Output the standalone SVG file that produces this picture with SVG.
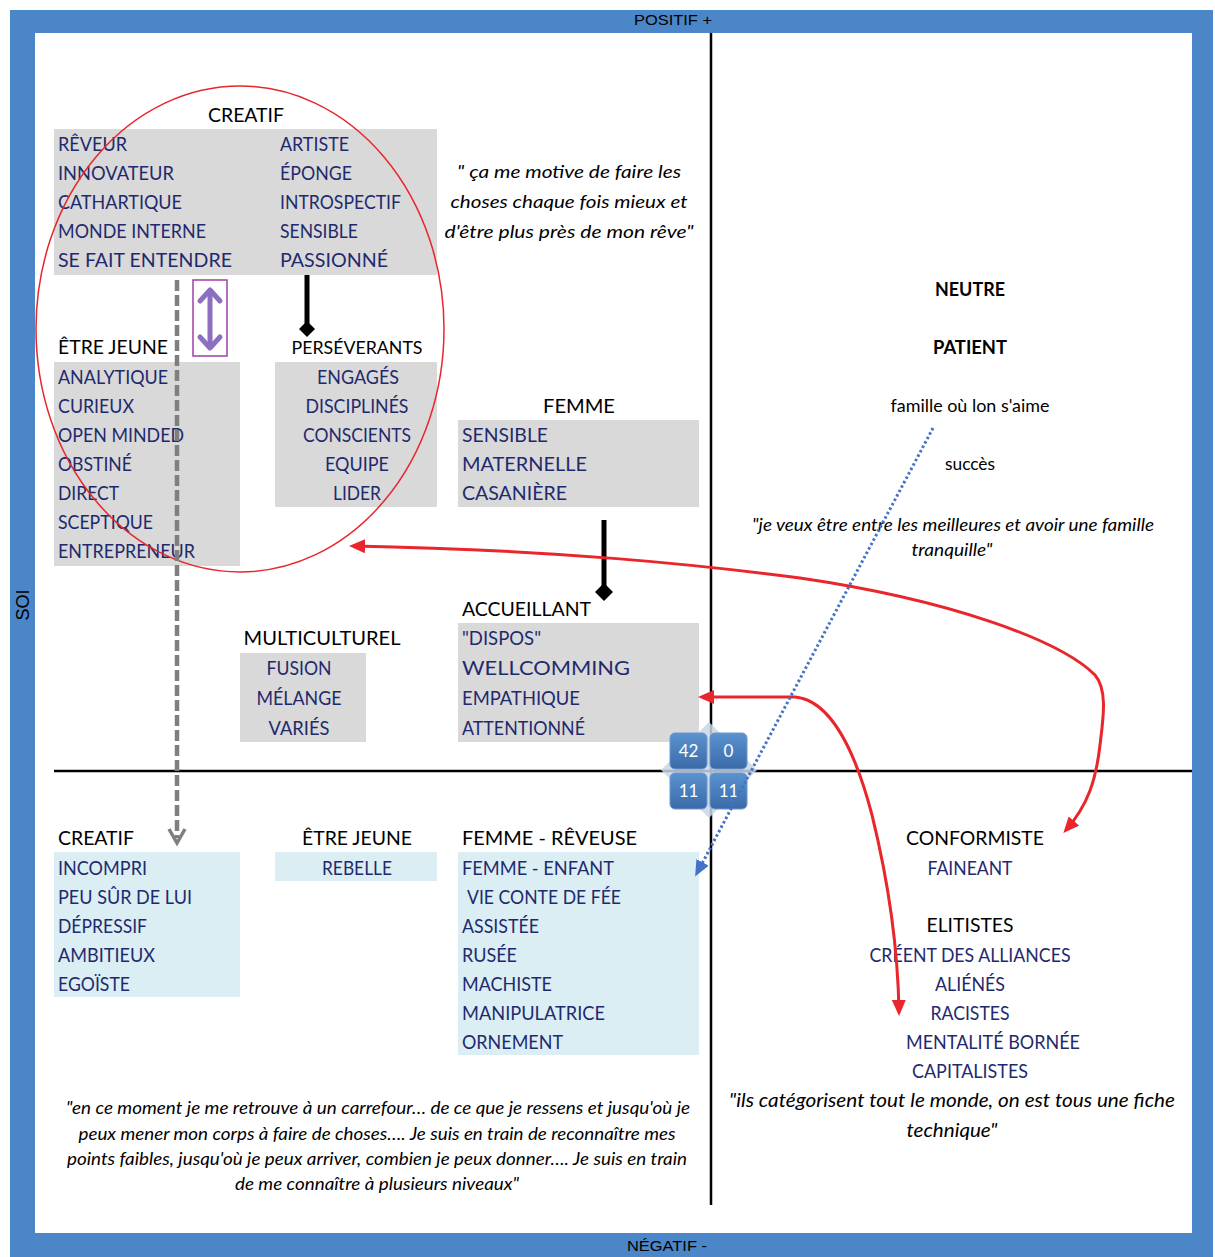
<svg xmlns="http://www.w3.org/2000/svg" width="1215" height="1257" viewBox="0 0 1215 1257">
<style>
.lbl{font-family:"Liberation Sans",Arial,sans-serif;font-size:14px;fill:#000}
.h{font-family:Lato,"Liberation Sans",sans-serif;font-size:20px;fill:#000}
.i{font-family:Lato,"Liberation Sans",sans-serif;font-size:19px;fill:#1F2A6E}
.q{font-family:Lato,"Liberation Sans",sans-serif;font-size:17px;font-style:italic;fill:#000}
.s{font-family:Lato,"Liberation Sans",sans-serif;font-size:17px;fill:#000}
.b{font-family:Lato,"Liberation Sans",sans-serif;font-size:18px;font-weight:bold;fill:#000}
.m{text-anchor:middle}
.gray{fill:#D9D9D9}
.lb{fill:#DBEEF4}
.badge{fill:url(#bg);stroke:#6C98CC;stroke-width:1}
.bt{font-family:Lato,"Liberation Sans",sans-serif;font-size:17px;fill:#fff;text-anchor:middle}
.red{fill:none;stroke:#E8262B;stroke-width:3;marker-start:url(#rh);marker-end:url(#rh)}
</style>
<defs>
<linearGradient id="bg" x1="0" y1="0" x2="0" y2="1">
<stop offset="0" stop-color="#5A92D0"/><stop offset="1" stop-color="#3A6BA8"/>
</linearGradient>
<marker id="rh" markerWidth="16" markerHeight="14" refX="12" refY="7" orient="auto-start-reverse" markerUnits="userSpaceOnUse">
<path d="M0,0 L16,7 L0,14 z" fill="#E8262B"/>
</marker>
<marker id="bh" markerWidth="16" markerHeight="14" refX="12" refY="7" orient="auto" markerUnits="userSpaceOnUse">
<path d="M0,0 L16,7 L0,14 z" fill="#4472C4"/>
</marker>
</defs>

<rect x="10" y="10" width="1203" height="1247" fill="#4A86C8"/>
<rect x="35" y="33" width="1157" height="1200" fill="#fff"/>
<text class="lbl m" x="673" y="25" textLength="78" lengthAdjust="spacingAndGlyphs">POSITIF +</text>
<text class="lbl m" x="667" y="1251" textLength="80" lengthAdjust="spacingAndGlyphs">NÉGATIF -</text>
<text class="lbl m" transform="translate(29,605) rotate(-90)" style="font-size:18px">SOI</text>

<g id="axes" stroke="#000" stroke-width="2.5">
<line x1="711" y1="33" x2="711" y2="1205"/>
<line x1="54" y1="771" x2="1192" y2="771"/>
</g>

<g id="creatif-top">
<text class="h m" x="246" y="122" textLength="76" lengthAdjust="spacingAndGlyphs">CREATIF</text>
<rect class="gray" x="54" y="129" width="383" height="146"/>
<text class="i" x="58" y="151" textLength="69" lengthAdjust="spacingAndGlyphs">RÊVEUR</text>
<text class="i" x="58" y="180" textLength="116" lengthAdjust="spacingAndGlyphs">INNOVATEUR</text>
<text class="i" x="58" y="209" textLength="124" lengthAdjust="spacingAndGlyphs">CATHARTIQUE</text>
<text class="i" x="58" y="238" textLength="148" lengthAdjust="spacingAndGlyphs">MONDE INTERNE</text>
<text class="i" x="58" y="267" textLength="174" lengthAdjust="spacingAndGlyphs">SE FAIT ENTENDRE</text>
<text class="i" x="280" y="151" textLength="69" lengthAdjust="spacingAndGlyphs">ARTISTE</text>
<text class="i" x="280" y="180" textLength="72" lengthAdjust="spacingAndGlyphs">ÉPONGE</text>
<text class="i" x="280" y="209" textLength="121" lengthAdjust="spacingAndGlyphs">INTROSPECTIF</text>
<text class="i" x="280" y="238" textLength="78" lengthAdjust="spacingAndGlyphs">SENSIBLE</text>
<text class="i" x="280" y="267" textLength="108" lengthAdjust="spacingAndGlyphs">PASSIONNÉ</text>
</g>

<g id="quote-top">
<text class="q m" x="569" y="178" textLength="224" lengthAdjust="spacingAndGlyphs">" ça me motive de faire les</text>
<text class="q m" x="569" y="208" textLength="237" lengthAdjust="spacingAndGlyphs">choses chaque fois mieux et</text>
<text class="q m" x="569" y="238" textLength="249" lengthAdjust="spacingAndGlyphs">d'être plus près de mon rêve"</text>
</g>

<g id="etre-jeune-top">
<text class="h" x="58" y="354" textLength="110" lengthAdjust="spacingAndGlyphs">ÊTRE JEUNE</text>
<rect class="gray" x="54" y="362" width="186" height="204"/>
<text class="i" x="58" y="384" textLength="110" lengthAdjust="spacingAndGlyphs">ANALYTIQUE</text>
<text class="i" x="58" y="413" textLength="76" lengthAdjust="spacingAndGlyphs">CURIEUX</text>
<text class="i" x="58" y="442" textLength="126" lengthAdjust="spacingAndGlyphs">OPEN MINDED</text>
<text class="i" x="58" y="471" textLength="74" lengthAdjust="spacingAndGlyphs">OBSTINÉ</text>
<text class="i" x="58" y="500" textLength="61" lengthAdjust="spacingAndGlyphs">DIRECT</text>
<text class="i" x="58" y="529" textLength="95" lengthAdjust="spacingAndGlyphs">SCEPTIQUE</text>
<text class="i" x="58" y="558" textLength="137" lengthAdjust="spacingAndGlyphs">ENTREPRENEUR</text>
</g>

<g id="perseverants">
<text class="h m" x="357" y="354" style="font-size:18px" textLength="131" lengthAdjust="spacingAndGlyphs">PERSÉVERANTS</text>
<rect class="gray" x="275" y="362" width="162" height="145"/>
<text class="i m" x="358" y="384" textLength="82" lengthAdjust="spacingAndGlyphs">ENGAGÉS</text>
<text class="i m" x="357" y="413" textLength="103" lengthAdjust="spacingAndGlyphs">DISCIPLINÉS</text>
<text class="i m" x="357" y="442" textLength="108" lengthAdjust="spacingAndGlyphs">CONSCIENTS</text>
<text class="i m" x="357" y="471" textLength="64" lengthAdjust="spacingAndGlyphs">EQUIPE</text>
<text class="i m" x="357" y="500" textLength="48" lengthAdjust="spacingAndGlyphs">LIDER</text>
</g>

<g id="femme">
<text class="h m" x="579" y="413" textLength="72" lengthAdjust="spacingAndGlyphs">FEMME</text>
<rect class="gray" x="458" y="420" width="241" height="87"/>
<text class="i" x="462" y="442" textLength="86" lengthAdjust="spacingAndGlyphs">SENSIBLE</text>
<text class="i" x="462" y="471" textLength="125" lengthAdjust="spacingAndGlyphs">MATERNELLE</text>
<text class="i" x="462" y="500" textLength="105" lengthAdjust="spacingAndGlyphs">CASANIÈRE</text>
</g>

<g id="accueillant">
<text class="h" x="462" y="616" textLength="129" lengthAdjust="spacingAndGlyphs">ACCUEILLANT</text>
<rect class="gray" x="458" y="623" width="241" height="119"/>
<text class="i" x="462" y="645" textLength="79" lengthAdjust="spacingAndGlyphs">"DISPOS"</text>
<text class="i" x="462" y="675" textLength="168" lengthAdjust="spacingAndGlyphs">WELLCOMMING</text>
<text class="i" x="462" y="705" textLength="118" lengthAdjust="spacingAndGlyphs">EMPATHIQUE</text>
<text class="i" x="462" y="735" textLength="123" lengthAdjust="spacingAndGlyphs">ATTENTIONNÉ</text>
</g>

<g id="multiculturel">
<text class="h m" x="322" y="645" textLength="157" lengthAdjust="spacingAndGlyphs">MULTICULTUREL</text>
<rect class="gray" x="240" y="653" width="126" height="89"/>
<text class="i m" x="299" y="675" textLength="65" lengthAdjust="spacingAndGlyphs">FUSION</text>
<text class="i m" x="299" y="705" textLength="85" lengthAdjust="spacingAndGlyphs">MÉLANGE</text>
<text class="i m" x="299" y="735" textLength="61" lengthAdjust="spacingAndGlyphs">VARIÉS</text>
</g>

<g id="neutre">
<text class="b m" x="970" y="296" textLength="70" lengthAdjust="spacingAndGlyphs">NEUTRE</text>
<text class="b m" x="970" y="354" textLength="74" lengthAdjust="spacingAndGlyphs">PATIENT</text>
<text class="s m" x="970" y="412" textLength="159" lengthAdjust="spacingAndGlyphs">famille où lon s'aime</text>
<text class="s m" x="970" y="470" textLength="50" lengthAdjust="spacingAndGlyphs">succès</text>
<text class="q m" x="953" y="531" textLength="402" lengthAdjust="spacingAndGlyphs">"je veux être entre les meilleures et avoir une famille</text>
<text class="q m" x="952" y="556" textLength="81" lengthAdjust="spacingAndGlyphs">tranquille"</text>
</g>

<g id="creatif-bottom">
<text class="h" x="58" y="845" textLength="76" lengthAdjust="spacingAndGlyphs">CREATIF</text>
<rect class="lb" x="54" y="852" width="186" height="145"/>
<text class="i" x="58" y="875" textLength="89" lengthAdjust="spacingAndGlyphs">INCOMPRI</text>
<text class="i" x="58" y="904" textLength="134" lengthAdjust="spacingAndGlyphs">PEU SÛR DE LUI</text>
<text class="i" x="58" y="933" textLength="89" lengthAdjust="spacingAndGlyphs">DÉPRESSIF</text>
<text class="i" x="58" y="962" textLength="97" lengthAdjust="spacingAndGlyphs">AMBITIEUX</text>
<text class="i" x="58" y="991" textLength="72" lengthAdjust="spacingAndGlyphs">EGOÏSTE</text>
</g>

<g id="etre-jeune-bottom">
<text class="h m" x="357" y="845" textLength="110" lengthAdjust="spacingAndGlyphs">ÊTRE JEUNE</text>
<rect class="lb" x="275" y="852" width="162" height="29"/>
<text class="i m" x="357" y="875" textLength="70" lengthAdjust="spacingAndGlyphs">REBELLE</text>
</g>

<g id="femme-reveuse">
<text class="h" x="462" y="845" textLength="175" lengthAdjust="spacingAndGlyphs">FEMME - RÊVEUSE</text>
<rect class="lb" x="458" y="852" width="241" height="203"/>
<text class="i" x="462" y="875" textLength="152" lengthAdjust="spacingAndGlyphs">FEMME - ENFANT</text>
<text class="i" x="467" y="904" textLength="154" lengthAdjust="spacingAndGlyphs">VIE CONTE DE FÉE</text>
<text class="i" x="462" y="933" textLength="77" lengthAdjust="spacingAndGlyphs">ASSISTÉE</text>
<text class="i" x="462" y="962" textLength="55" lengthAdjust="spacingAndGlyphs">RUSÉE</text>
<text class="i" x="462" y="991" textLength="90" lengthAdjust="spacingAndGlyphs">MACHISTE</text>
<text class="i" x="462" y="1020" textLength="143" lengthAdjust="spacingAndGlyphs">MANIPULATRICE</text>
<text class="i" x="462" y="1049" textLength="101" lengthAdjust="spacingAndGlyphs">ORNEMENT</text>
</g>

<g id="quote-bottom">
<text class="q m" x="378" y="1114" textLength="624" lengthAdjust="spacingAndGlyphs">"en ce moment je me retrouve à un carrefour… de ce que je ressens et jusqu'où je</text>
<text class="q m" x="377" y="1140" textLength="597" lengthAdjust="spacingAndGlyphs">peux mener mon corps à faire de choses…. Je suis en train de reconnaître mes</text>
<text class="q m" x="377" y="1165" textLength="620" lengthAdjust="spacingAndGlyphs">points faibles, jusqu'où je peux arriver, combien je peux donner…. Je suis en train</text>
<text class="q m" x="377" y="1190" textLength="284" lengthAdjust="spacingAndGlyphs">de me connaître à plusieurs niveaux"</text>
</g>

<g id="conformiste">
<text class="h m" x="975" y="845" textLength="138" lengthAdjust="spacingAndGlyphs">CONFORMISTE</text>
<text class="i m" x="970" y="875" textLength="85" lengthAdjust="spacingAndGlyphs">FAINEANT</text>
</g>

<g id="elitistes">
<text class="h m" x="970" y="932" textLength="87" lengthAdjust="spacingAndGlyphs">ELITISTES</text>
<text class="i m" x="970" y="962" textLength="201" lengthAdjust="spacingAndGlyphs">CRÉENT DES ALLIANCES</text>
<text class="i m" x="970" y="991" textLength="70" lengthAdjust="spacingAndGlyphs">ALIÉNÉS</text>
<text class="i m" x="970" y="1020" textLength="79" lengthAdjust="spacingAndGlyphs">RACISTES</text>
<text class="i m" x="993" y="1049" textLength="174" lengthAdjust="spacingAndGlyphs">MENTALITÉ BORNÉE</text>
<text class="i m" x="970" y="1078" textLength="116" lengthAdjust="spacingAndGlyphs">CAPITALISTES</text>
<text class="q m" x="952" y="1107" style="font-size:19px" textLength="446" lengthAdjust="spacingAndGlyphs">"ils catégorisent tout le monde, on est tous une fiche</text>
<text class="q m" x="952" y="1137" style="font-size:19px" textLength="91" lengthAdjust="spacingAndGlyphs">technique"</text>
</g>

<g id="badges">
<polygon points="709,722 757,770 709,818 661,770" fill="#C9D6E8" opacity="0.85"/>
<rect class="badge" x="670" y="733" width="37" height="36" rx="5"/>
<rect class="badge" x="710" y="733" width="37" height="36" rx="5"/>
<rect class="badge" x="670" y="773" width="37" height="36" rx="5"/>
<rect class="badge" x="710" y="773" width="37" height="36" rx="5"/>
<text class="bt" x="688.5" y="757">42</text>
<text class="bt" x="728.5" y="757">0</text>
<text class="bt" x="688.5" y="797">11</text>
<text class="bt" x="728.5" y="797">11</text>
</g>

<g id="connectors">
<ellipse cx="240" cy="329" rx="204" ry="243" fill="none" stroke="#E8262B" stroke-width="1.5"/>
<line x1="177" y1="280" x2="177" y2="838" stroke="#7F7F7F" stroke-width="4.5" stroke-dasharray="11 4"/>
<polyline points="169,829 177,843 185,829" fill="none" stroke="#7F7F7F" stroke-width="3.5"/>
<rect x="193" y="280" width="34" height="76" fill="none" stroke="#9E3FA8" stroke-width="1.5"/>
<g stroke="#8C6FC0" stroke-width="5" stroke-linecap="round" stroke-linejoin="round" fill="none">
<line x1="210" y1="293" x2="210" y2="345"/>
<polyline points="200,301 210,290 220,301"/>
<polyline points="200,337 210,348 220,337"/>
</g>
<line x1="307" y1="275" x2="307" y2="324" stroke="#000" stroke-width="5"/>
<polygon points="307,321 315,329 307,337 299,329" fill="#000"/>
<line x1="604" y1="520" x2="604" y2="586" stroke="#000" stroke-width="5"/>
<polygon points="604,583 613,592 604,601 595,592" fill="#000"/>
<path class="red" d="M 353,546 C 560,550 700,565 800,578 C 950,600 1060,640 1095,675 C 1108,690 1103,720 1100,745 C 1096,780 1088,805 1066,830"/>
<path class="red" d="M 702,697 L 795,697 C 830,700 855,750 872,815 C 888,880 898,950 899,1012"/>
<line x1="933" y1="428" x2="697" y2="873" stroke="#4472C4" stroke-width="3" stroke-dasharray="2.5 2.5" marker-end="url(#bh)"/>
</g>
</svg>
